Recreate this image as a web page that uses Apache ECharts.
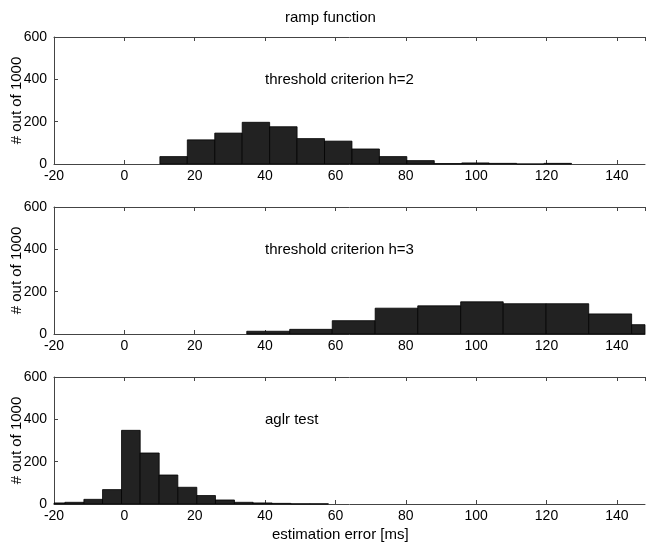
<!DOCTYPE html>
<html>
<head>
<meta charset="utf-8">
<script src="https://cdn.jsdelivr.net/npm/echarts@6/dist/echarts.min.js"></script>
<style>
  html, body { margin: 0; padding: 0; background: #fff; }
  #chart { width: 646px; height: 546px; }
</style>
</head>
<body>
<div id="chart"></div>
<script>
// histogram bin edges (ms) and counts
const h2Edges = [10.1, 17.9, 25.7, 33.5, 41.3, 49.1, 56.9, 64.7, 72.5, 80.3, 88.1, 95.9, 103.7, 111.5, 119.3, 127.1];
const h2Counts = [35, 114, 146, 197, 176, 120, 108, 71, 35, 16, 2, 5, 3, 0, 3];

const h3Edges = [34.8, 47.0, 59.1, 71.3, 83.4, 95.6, 107.7, 119.9, 132.0, 144.2, 156.3];
const h3Counts = [13, 22, 63, 122, 133, 152, 143, 143, 95, 44];

const aglrEdges = [-22.2, -16.9, -11.5, -6.2, -0.8, 4.5, 9.9, 15.2, 20.6, 25.9, 31.3, 36.6, 42.0, 47.3, 52.7, 58.0];
const aglrCounts = [5, 8, 22, 68, 348, 241, 137, 79, 40, 19, 8, 5, 3, 1, 1];

const xTicks = [-20, 0, 20, 40, 60, 80, 100, 120, 140];
const yTicks = [0, 200, 400, 600];
const panelNames = ['threshold criterion h=2', 'threshold criterion h=3', 'aglr test'];

const font = 'Liberation Sans, Arial, sans-serif';
const axisColor = '#444';

function toBins(edges, counts) {
  return counts.map((c, i) => [edges[i], edges[i + 1], c]);
}

function renderItem(params, api) {
  const p0 = api.coord([api.value(0), api.value(2)]);
  const p1 = api.coord([api.value(1), 0]);
  const rect = echarts.graphic.clipRectByRect(
    { x: p0[0], y: p0[1], width: p1[0] - p0[0], height: p1[1] - p0[1] },
    { x: params.coordSys.x, y: params.coordSys.y, width: params.coordSys.width, height: params.coordSys.height }
  );
  if (!rect) return;
  return {
    type: 'rect',
    shape: rect,
    style: { fill: '#222222', stroke: '#000', lineWidth: 0.8 }
  };
}

const chart = echarts.init(document.getElementById('chart'), null, { renderer: 'canvas' });

const tops = [37, 207, 377];
const grids = [], xAxes = [], yAxes = [], series = [], titles = [];
const allBins = [toBins(h2Edges, h2Counts), toBins(h3Edges, h3Counts), toBins(aglrEdges, aglrCounts)];

tops.forEach((top, i) => {
  grids.push({ left: 54, top: top, width: 591, height: 127, containLabel: false, outerBoundsMode: 'none' });
  // bottom axis with labels
  xAxes.push({
    gridIndex: i, type: 'value', position: 'bottom',
    min: -20, max: 148, interval: 20,
    axisLine: { show: true, onZero: false, lineStyle: { color: axisColor, width: 1 } },
    axisTick: { show: true, inside: true, length: 4, lineStyle: { color: axisColor } },
    axisLabel: {
      color: '#000', fontSize: 14, fontFamily: font, margin: 5, showMaxLabel: false,
      formatter: (v) => (xTicks.indexOf(v) >= 0 ? String(v) : '')
    },
    splitLine: { show: false }
  });
  // top mirror axis
  xAxes.push({
    gridIndex: i, type: 'value', position: 'top',
    min: -20, max: 148, interval: 20,
    axisLine: { show: true, onZero: false, lineStyle: { color: axisColor, width: 1 } },
    axisTick: { show: true, inside: true, length: 4, lineStyle: { color: axisColor } },
    axisLabel: { show: false },
    splitLine: { show: false }
  });
  yAxes.push({
    gridIndex: i, type: 'value', position: 'left',
    min: 0, max: 600, interval: 200,
    axisLine: { show: true, onZero: false, lineStyle: { color: axisColor, width: 1 } },
    axisTick: { show: true, inside: true, length: 4, lineStyle: { color: axisColor } },
    axisLabel: {
      color: '#000', fontSize: 14, fontFamily: font, margin: 7,
      formatter: (v) => (yTicks.indexOf(v) >= 0 ? String(v) : '')
    },
    splitLine: { show: false },
    name: '# out of 1000', nameLocation: 'middle', nameGap: 30, nameMoveOverlap: false,
    nameTextStyle: { color: '#000', fontSize: 15, fontFamily: font }
  });
  series.push({
    type: 'custom',
    xAxisIndex: i * 2, yAxisIndex: i,
    renderItem: renderItem,
    encode: { x: [0, 1], y: 2 },
    data: allBins[i],
    silent: true
  });
  titles.push({
    text: panelNames[i], left: 260, top: top + 30,
    textStyle: { color: '#000', fontSize: 15, fontWeight: 'normal', fontFamily: font }
  });
});

titles.push({
  text: 'ramp function', left: 280, top: 5,
  textStyle: { color: '#000', fontSize: 15, fontWeight: 'normal', fontFamily: font }
});
titles.push({
  text: 'estimation error [ms]', left: 267, top: 522,
  textStyle: { color: '#000', fontSize: 15, fontWeight: 'normal', fontFamily: font }
});

chart.setOption({
  backgroundColor: '#fff',
  animation: false,
  title: titles,
  grid: grids,
  xAxis: xAxes,
  yAxis: yAxes,
  series: series
});
</script>
</body>
</html>
